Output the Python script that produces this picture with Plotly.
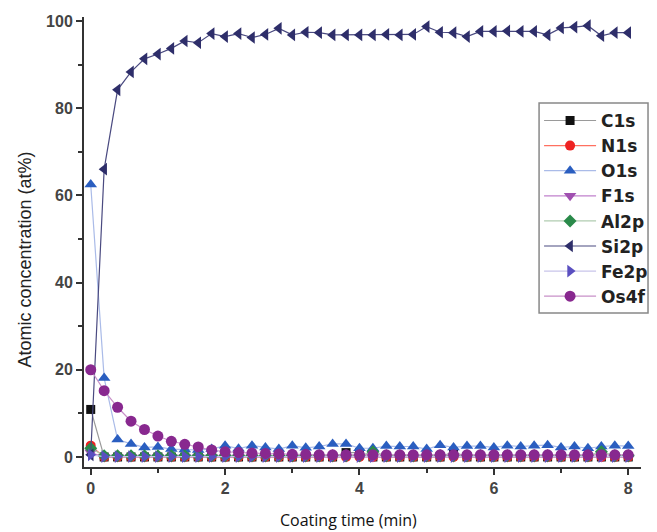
import plotly.graph_objects as go

time_min = [round(0.2 * i, 1) for i in range(41)]

c1s = [10.9, 0, 0, 0, 0, 0, 0, 0, 0, 0, 0, 0, 0, 0, 0, 0, 0, 0, 0, 1.0, 1.0,
       0, 0, 0, 0, 0, 0, 1.2, 0, 0, 0, 0, 0, 0, 0, 0, 0, 0, 0, 0, 0]
n1s = [2.6] + [0.0] * 40
o1s = [62.5, 18.1, 4.0, 3.0, 2.2, 2.3, 1.8, 1.7, 1.6, 1.8, 2.6, 1.9, 2.6, 2.2, 1.8,
       2.6, 2.1, 2.4, 3.0, 3.0, 2.0, 2.0, 2.5, 2.4, 2.4, 1.8, 2.7, 2.2, 2.5, 2.5,
       2.2, 2.6, 2.4, 2.6, 2.7, 2.2, 2.4, 2.0, 2.4, 2.6, 2.5]
f1s = [1.0] + [0.0] * 40
al2p = [2.0, 0.3, 0.3, 0.3, 0.3, 0.3, 0.3, 0.3, 0.3, 0.3, 0.3, 0.3, 0.3, 0.3, 0.3,
        0.3, 0.3, 0.3, 0.3, 0.3, 0.3, 1.2, 0.3, 0.3, 0.3, 0.3, 0.3, 0.3, 0.3, 0.3,
        0.3, 0.3, 0.3, 0.3, 0.3, 0.3, 0.3, 0.3, 1.2, 0.3, 0.3]
si2p = [0.5, 66.0, 84.2, 88.3, 91.3, 92.4, 93.7, 95.4, 95.0, 97.1, 96.4, 97.1, 96.2,
        96.9, 98.3, 96.8, 97.4, 97.3, 96.8, 96.8, 96.8, 96.8, 96.9, 96.8, 96.9, 98.7,
        97.4, 97.3, 96.4, 97.6, 97.6, 97.7, 97.6, 97.6, 96.8, 98.4, 98.6, 98.9, 96.6,
        97.3, 97.3]
fe2p = [0.5] + [0.1] * 40
os4f = [20.0, 15.2, 11.4, 8.2, 6.3, 4.8, 3.6, 2.9, 2.3, 1.6, 1.2, 1.0, 0.9, 0.8, 0.7,
        0.6, 0.6, 0.5, 0.5, 0.5, 0.5, 0.5, 0.5, 0.5, 0.5, 0.5, 0.5, 0.5, 0.5, 0.5,
        0.5, 0.5, 0.5, 0.5, 0.5, 0.5, 0.5, 0.5, 0.5, 0.5, 0.5]

series = [
    ("C1s", c1s, "#111111", "#9a9a9a", "square", 9),
    ("N1s", n1s, "#ee2222", "#ff7060", "circle", 10),
    ("O1s", o1s, "#2a5ec0", "#aabbe8", "triangle-up", 11),
    ("F1s", f1s, "#a050b0", "#c080cc", "triangle-down", 11),
    ("Al2p", al2p, "#2a8a4a", "#b0ccb0", "diamond", 10),
    ("Si2p", si2p, "#2e2e6a", "#4a4a80", "triangle-left", 11),
    ("Fe2p", fe2p, "#5a4fc0", "#c8c4ea", "triangle-right", 11),
    ("Os4f", os4f, "#88288f", "#c890c8", "circle", 11),
]

fig = go.Figure()
for name, vals, mcol, lcol, sym, size in series:
    fig.add_trace(go.Scatter(
        x=time_min, y=vals, name=name, mode="lines+markers",
        line=dict(color=lcol, width=1.2),
        marker=dict(color=mcol, symbol=sym, size=size),
    ))

axis_common = dict(
    showline=True, linewidth=2, linecolor="#333333",
    ticks="outside", ticklen=6, tickwidth=2, tickcolor="#333333",
    showgrid=False, zeroline=False, automargin=False,
    tickfont=dict(family="Liberation Sans, Arial", size=16, color="#444444", weight="bold"),
)

fig.update_xaxes(range=[-0.1, 8.19], tickvals=[0, 2, 4, 6, 8],
                 minor=dict(tickvals=[1, 3, 5, 7], ticks="outside", ticklen=4,
                            tickwidth=2, tickcolor="#333333"),
                 **axis_common)
fig.update_yaxes(range=[-2.3, 100.9], tickvals=[0, 20, 40, 60, 80, 100],
                 minor=dict(tickvals=[10, 30, 50, 70, 90], ticks="outside", ticklen=4,
                            tickwidth=2, tickcolor="#333333"),
                 **axis_common)

fig.update_layout(
    width=649, height=524,
    margin=dict(l=76, r=16, t=9, b=65, autoexpand=False),
    plot_bgcolor="white", paper_bgcolor="white",
    showlegend=True,
    legend=dict(x=0.817, y=0.809, xanchor="left", yanchor="top",
                bgcolor="rgba(0,0,0,0)", borderwidth=0,
                font=dict(family="DejaVu Sans", size=17, color="#222222", weight="bold"),
                tracegroupgap=0, itemwidth=52),
    shapes=[
        dict(type="rect", xref="paper", yref="paper",
             x0=0.817, x1=1.0126, y0=0.342, y1=0.809,
             line=dict(color="#888888", width=1.5), fillcolor="white", layer="above"),
    ],
    annotations=[
        dict(text="Atomic concentration (at%)", xref="paper", yref="paper",
             x=-0.106, y=0.461, textangle=-90, showarrow=False,
             xanchor="center", yanchor="middle",
             font=dict(family="Liberation Sans, Arial", size=18, color="#222222")),
        dict(text="Coating time (min)", xref="paper", yref="paper",
             x=0.474, y=-0.118, showarrow=False, xanchor="center", yanchor="middle",
             font=dict(family="Open Sans", size=16, color="#111111")),
    ],
)

fig.write_html("out.html")
